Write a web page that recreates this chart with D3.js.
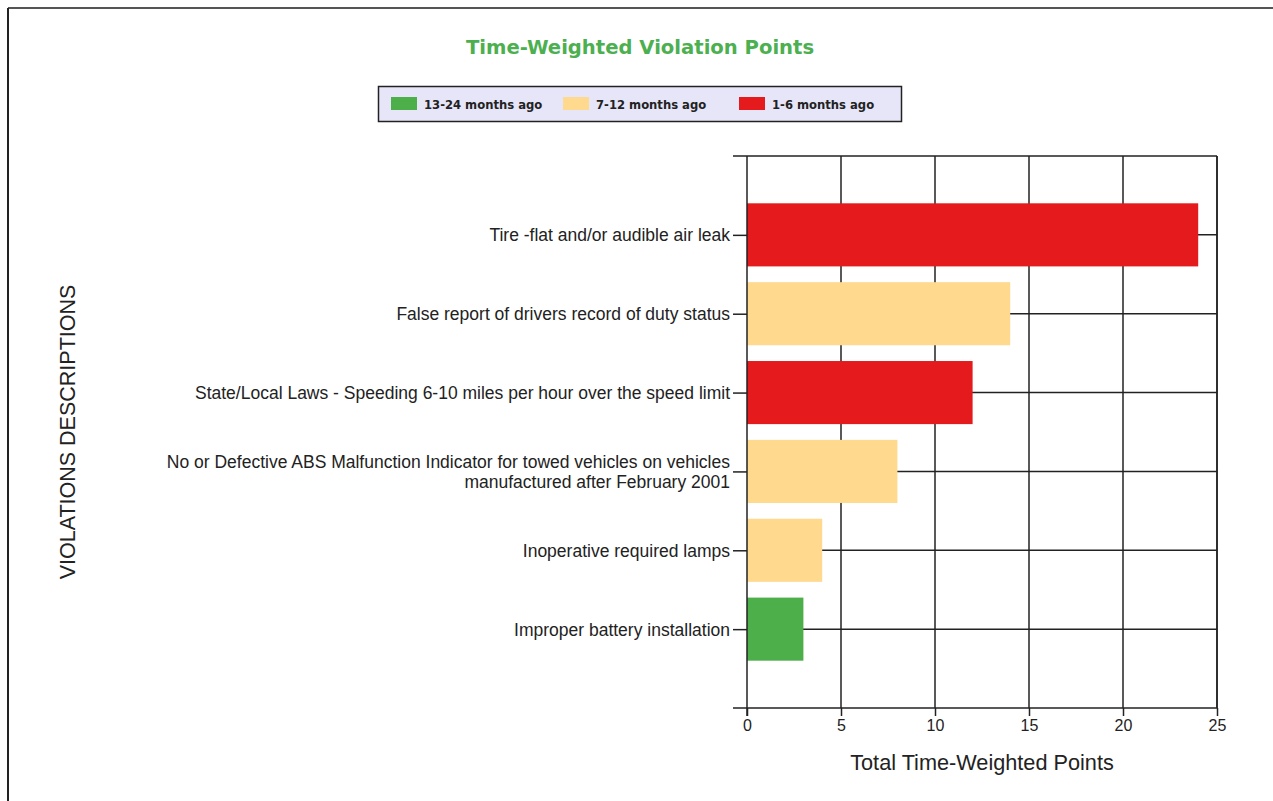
<!DOCTYPE html>
<html><head><meta charset="utf-8">
<script src="https://cdn.jsdelivr.net/npm/d3@7/dist/d3.min.js"></script>
<style>body{margin:0;background:#fff}svg{display:block}</style>
</head><body>
<script>
const categories = [
  "Tire -flat and/or audible air leak",
  "False report of drivers record of duty status",
  "State/Local Laws - Speeding 6-10 miles per hour over the speed limit",
  "No or Defective ABS Malfunction Indicator for towed vehicles on vehicles|manufactured after February 2001",
  "Inoperative required lamps",
  "Improper battery installation"
];
const values = [24, 14, 12, 8, 4, 3];
const periods = ["1-6 months ago", "7-12 months ago", "1-6 months ago", "7-12 months ago", "7-12 months ago", "13-24 months ago"];
const legendLabels = ["13-24 months ago", "7-12 months ago", "1-6 months ago"];
const legendColors = ["#4daf4a", "#fed98e", "#e41a1c"];
const xTicks = [0, 5, 10, 15, 20, 25];

const W = 1273, H = 801;
const svg = d3.select("body").append("svg").attr("width", W).attr("height", H);

// outer frame
svg.append("line").attr("x1", 8).attr("y1", 8).attr("x2", W).attr("y2", 8).attr("stroke", "#555").attr("stroke-width", 2);
svg.append("line").attr("x1", 8).attr("y1", 8).attr("x2", 8).attr("y2", H).attr("stroke", "#222").attr("stroke-width", 2);

const L = 747, R = 1217, T = 156, B = 708;
const x = d3.scaleLinear().domain([0, 25]).range([L, R]);
const y = d3.scalePoint().domain(categories).range([T, B]).padding(1);
const color = d3.scaleOrdinal().domain(legendLabels).range(legendColors);
const barH = y.step() * 0.8;

// title
svg.append("text").attr("x", 640).attr("y", 54).attr("text-anchor", "middle")
  .attr("font-family", "DejaVu Sans").attr("font-weight", "bold").attr("font-size", 19.6)
  .attr("fill", "#4caf50").text("Time-Weighted Violation Points");

// legend
const lg = svg.append("g");
lg.append("rect").attr("x", 378.5).attr("y", 86.5).attr("width", 523).attr("height", 35)
  .attr("fill", "#e6e6f8").attr("stroke", "#222").attr("stroke-width", 1.5);
const legX = [391, 563, 739];
legendLabels.forEach((lab, i) => {
  lg.append("rect").attr("x", legX[i]).attr("y", 97).attr("width", 26).attr("height", 13).attr("fill", legendColors[i]);
  lg.append("text").attr("x", legX[i] + 33).attr("y", 108.5).attr("font-family", "DejaVu Sans")
    .attr("font-weight", "bold").attr("font-size", 11.6).attr("fill", "#222").text(lab);
});

// gridlines vertical
const g = svg.append("g");
g.selectAll("line.vg").data(xTicks.slice(1)).join("line").attr("class", "vg")
  .attr("x1", d => x(d)).attr("x2", d => x(d)).attr("y1", T).attr("y2", B)
  .attr("stroke", "#222").attr("stroke-width", 1.5);
// horizontal gridlines at categories
g.selectAll("line.hg").data(categories).join("line").attr("class", "hg")
  .attr("x1", L).attr("x2", R).attr("y1", d => y(d)).attr("y2", d => y(d))
  .attr("stroke", "#222").attr("stroke-width", 1.5);
// top frame
g.append("line").attr("x1", L - 14).attr("x2", R).attr("y1", T).attr("y2", T).attr("stroke", "#222").attr("stroke-width", 1.5);

// bars
svg.selectAll("rect.bar").data(categories).join("rect").attr("class", "bar")
  .attr("x", x(0)).attr("y", d => y(d) - barH / 2)
  .attr("width", (d, i) => x(values[i]) - x(0)).attr("height", barH)
  .attr("fill", (d, i) => color(periods[i]));

// x axis
const xAxis = svg.append("g").attr("transform", `translate(0,${B})`)
  .call(d3.axisBottom(x).tickValues(xTicks).tickSize(8).tickSizeOuter(0));
xAxis.select(".domain").remove();
xAxis.append("line").attr("x1", L - 14).attr("x2", R).attr("y1", 0).attr("y2", 0).attr("stroke", "#222").attr("stroke-width", 1.5);
xAxis.selectAll(".tick line").attr("stroke", "#222").attr("stroke-width", 1.5);
xAxis.selectAll(".tick text").attr("font-family", "Liberation Sans").attr("font-size", 16).attr("fill", "#222").attr("dy", "0.75em");

// y axis
const yAxis = svg.append("g").attr("transform", `translate(${L},0)`)
  .call(d3.axisLeft(y).tickSize(14).tickSizeOuter(0).tickFormat(""));
yAxis.select(".domain").remove();
yAxis.append("line").attr("x1", 0).attr("x2", 0).attr("y1", T).attr("y2", B + 8).attr("stroke", "#222").attr("stroke-width", 1.5);
yAxis.selectAll(".tick line").attr("stroke", "#222").attr("stroke-width", 1.5);
yAxis.selectAll(".tick").each(function(d) {
  const lines = d.split("|");
  const t = d3.select(this).append("text").attr("x", -17).attr("text-anchor", "end")
    .attr("font-family", "Liberation Sans").attr("font-size", 17.5).attr("fill", "#222");
  lines.forEach((ln, i) => {
    t.append("tspan").attr("x", -17).attr("y", (i - (lines.length - 1) / 2) * 20).attr("dy", "0.35em").text(ln);
  });
});

// right frame
svg.append("line").attr("x1", R).attr("x2", R).attr("y1", T).attr("y2", B).attr("stroke", "#222").attr("stroke-width", 1.5);

// axis titles
svg.append("text").attr("x", (L + R) / 2).attr("y", 770).attr("text-anchor", "middle")
  .attr("font-family", "Liberation Sans").attr("font-size", 21.7).attr("fill", "#222").text("Total Time-Weighted Points");
svg.append("text").attr("transform", `translate(75,${(T + B) / 2}) rotate(-90)`).attr("text-anchor", "middle")
  .attr("font-family", "Liberation Sans").attr("font-size", 21.5).attr("fill", "#222").text("VIOLATIONS DESCRIPTIONS");
</script>
</body></html>
